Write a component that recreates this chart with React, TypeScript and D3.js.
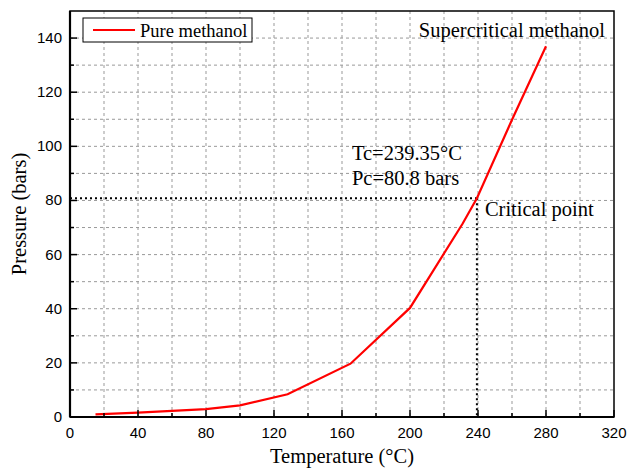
import React from 'react';
import * as d3 from 'd3';

// vapour pressure curve of pure methanol
const temps = [15, 40, 80, 100, 128, 165, 200, 231, 239.35, 260, 280];
const pressures = [1.0, 1.6, 2.9, 4.3, 8.4, 19.7, 40.3, 71.5, 80.8, 109.8, 137];

const xTicks = [0, 40, 80, 120, 160, 200, 240, 280, 320];
const yTicks = [0, 20, 40, 60, 80, 100, 120, 140];
const tc = 239.35;
const pc = 80.8;

const W = 627, H = 469;
const margin = { top: 11, right: 13, bottom: 52, left: 70 };
const serif = '"Liberation Serif", "Times New Roman", serif';
const sans = '"Liberation Sans", Arial, sans-serif';

export default function App() {
  const ref = React.useRef<SVGSVGElement>(null);

  React.useEffect(() => {
    const svg = d3.select(ref.current);
    svg.selectAll('*').remove();
    const iw = W - margin.left - margin.right;
    const ih = H - margin.top - margin.bottom;

    const x = d3.scaleLinear().domain([0, 320]).range([0, iw]);
    const y = d3.scaleLinear().domain([0, 150]).range([ih, 0]);

    const g = svg.append('g').attr('transform', `translate(${margin.left},${margin.top})`);

    // grid
    const xg = d3.range(20, 320, 20);
    const yg = d3.range(10, 150, 10);
    g.selectAll('.gx').data(xg).enter().append('line')
      .attr('x1', d => x(d)).attr('x2', d => x(d)).attr('y1', 0).attr('y2', ih)
      .attr('stroke', '#999').attr('stroke-width', 1).attr('stroke-dasharray', '3,3');
    g.selectAll('.gy').data(yg).enter().append('line')
      .attr('y1', d => y(d)).attr('y2', d => y(d)).attr('x1', 0).attr('x2', iw)
      .attr('stroke', '#999').attr('stroke-width', 1).attr('stroke-dasharray', '3,3');

    // critical point guide lines
    g.append('line').attr('x1', 0).attr('x2', x(tc)).attr('y1', y(pc)).attr('y2', y(pc))
      .attr('stroke', '#000').attr('stroke-width', 2).attr('stroke-dasharray', '2,3');
    g.append('line').attr('x1', x(tc)).attr('x2', x(tc)).attr('y1', y(pc)).attr('y2', ih)
      .attr('stroke', '#000').attr('stroke-width', 2).attr('stroke-dasharray', '2,3');

    // curve
    const line = d3.line<number>().x((d, i) => x(temps[i])).y(d => y(d));
    g.append('path').attr('d', line(pressures)).attr('fill', 'none')
      .attr('stroke', '#ff0000').attr('stroke-width', 2.2);

    // ticks (inward)
    const xMinor = d3.range(20, 320, 40);
    const yMinor = d3.range(10, 150, 20);
    g.selectAll('.tx').data(xTicks).enter().append('line')
      .attr('x1', d => x(d)).attr('x2', d => x(d)).attr('y1', ih).attr('y2', ih - 7)
      .attr('stroke', '#000').attr('stroke-width', 1.5);
    g.selectAll('.tx2').data(xMinor).enter().append('line')
      .attr('x1', d => x(d)).attr('x2', d => x(d)).attr('y1', ih).attr('y2', ih - 4)
      .attr('stroke', '#000').attr('stroke-width', 1.5);
    g.selectAll('.ty').data(yTicks).enter().append('line')
      .attr('y1', d => y(d)).attr('y2', d => y(d)).attr('x1', 0).attr('x2', 7)
      .attr('stroke', '#000').attr('stroke-width', 1.5);
    g.selectAll('.ty2').data(yMinor).enter().append('line')
      .attr('y1', d => y(d)).attr('y2', d => y(d)).attr('x1', 0).attr('x2', 4)
      .attr('stroke', '#000').attr('stroke-width', 1.5);

    // frame
    g.append('rect').attr('width', iw).attr('height', ih).attr('fill', 'none')
      .attr('stroke', '#000').attr('stroke-width', 1.5);
    g.append('line').attr('x1', 0).attr('x2', 0).attr('y1', 0).attr('y2', ih)
      .attr('stroke', '#000').attr('stroke-width', 2.2);
    g.append('line').attr('x1', 0).attr('x2', iw).attr('y1', ih).attr('y2', ih)
      .attr('stroke', '#000').attr('stroke-width', 2.2);

    // tick labels
    g.selectAll('.lx').data(xTicks).enter().append('text')
      .attr('x', d => x(d)).attr('y', ih + 21).attr('text-anchor', 'middle')
      .attr('font-family', sans).attr('font-size', 15).text(d => d);
    g.selectAll('.ly').data(yTicks).enter().append('text')
      .attr('x', -8).attr('y', d => y(d) + 5).attr('text-anchor', 'end')
      .attr('font-family', sans).attr('font-size', 15).text(d => d);

    // axis titles
    g.append('text').attr('x', iw / 2).attr('y', ih + 46).attr('text-anchor', 'middle')
      .attr('font-family', serif).attr('font-size', 20.5).text('Temperature (°C)');
    svg.append('text').attr('transform', `translate(26,${margin.top + ih / 2}) rotate(-90)`)
      .attr('text-anchor', 'middle').attr('font-family', serif).attr('font-size', 20.5)
      .text('Pressure (bars)');

    // legend
    g.append('rect').attr('x', 13).attr('y', 7).attr('width', 169).attr('height', 24)
      .attr('fill', '#fff').attr('stroke', '#000').attr('stroke-width', 1);
    g.append('line').attr('x1', 23).attr('x2', 65).attr('y1', 19).attr('y2', 19)
      .attr('stroke', '#ff0000').attr('stroke-width', 2);
    g.append('text').attr('x', 70).attr('y', 25.5).attr('font-family', serif)
      .attr('font-size', 18.5).text('Pure methanol');

    // annotations
    g.append('text').attr('x', iw - 9).attr('y', 26).attr('text-anchor', 'end')
      .attr('font-family', serif).attr('font-size', 20.5).text('Supercritical methanol');
    g.append('text').attr('x', x(tc) - 125).attr('y', y(pc) - 38)
      .attr('font-family', serif).attr('font-size', 20.5).text('Tc=239.35°C');
    g.append('text').attr('x', x(tc) - 125).attr('y', y(pc) - 13)
      .attr('font-family', serif).attr('font-size', 20.5).text('Pc=80.8 bars');
    g.append('text').attr('x', x(tc) + 8).attr('y', y(pc) + 18)
      .attr('font-family', serif).attr('font-size', 20.5).text('Critical point');
  }, []);

  return <svg ref={ref} width={W} height={H} style={{ position: 'absolute', left: 0, top: 0, background: '#fff' }} />;
}
